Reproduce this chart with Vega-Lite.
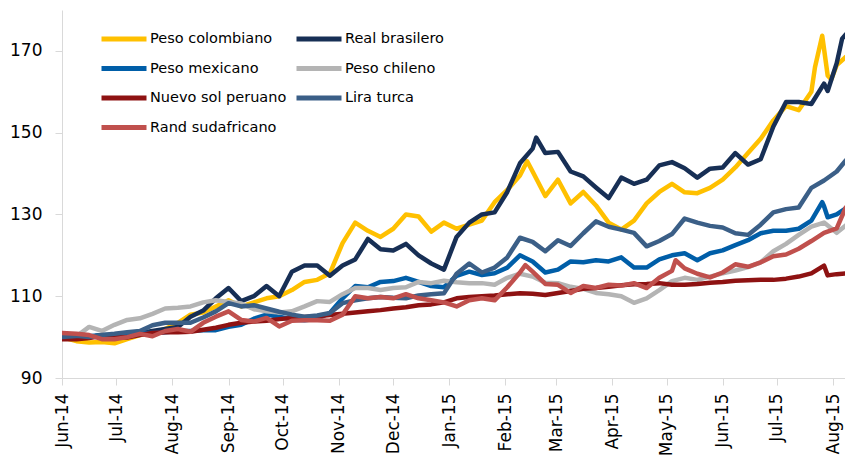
{
"$schema":"https://vega.github.io/schema/vega-lite/v6.json",
"width":783,"height":368,
"autosize":{"type":"none"},
"padding":{"left":62,"top":10,"right":0,"bottom":85},
"background":"white",
"config":{"view":{"stroke":null},"font":"DejaVu Sans"},
"data":{"values":[
{"date":"2014-06-01","series":"Peso colombiano","value":100},
{"date":"2014-06-09","series":"Peso colombiano","value":99},
{"date":"2014-06-16","series":"Peso colombiano","value":98.7},
{"date":"2014-06-23","series":"Peso colombiano","value":98.8},
{"date":"2014-06-30","series":"Peso colombiano","value":98.5},
{"date":"2014-07-07","series":"Peso colombiano","value":99.5},
{"date":"2014-07-14","series":"Peso colombiano","value":100.5},
{"date":"2014-07-21","series":"Peso colombiano","value":101},
{"date":"2014-07-28","series":"Peso colombiano","value":102},
{"date":"2014-08-04","series":"Peso colombiano","value":103.5},
{"date":"2014-08-11","series":"Peso colombiano","value":105.5},
{"date":"2014-08-18","series":"Peso colombiano","value":106},
{"date":"2014-08-25","series":"Peso colombiano","value":107.5},
{"date":"2014-09-01","series":"Peso colombiano","value":109},
{"date":"2014-09-08","series":"Peso colombiano","value":107.5},
{"date":"2014-09-15","series":"Peso colombiano","value":108.5},
{"date":"2014-09-22","series":"Peso colombiano","value":109.5},
{"date":"2014-09-29","series":"Peso colombiano","value":110},
{"date":"2014-10-06","series":"Peso colombiano","value":111.5},
{"date":"2014-10-13","series":"Peso colombiano","value":113.5},
{"date":"2014-10-20","series":"Peso colombiano","value":114},
{"date":"2014-10-27","series":"Peso colombiano","value":115.6},
{"date":"2014-11-03","series":"Peso colombiano","value":123},
{"date":"2014-11-10","series":"Peso colombiano","value":128},
{"date":"2014-11-17","series":"Peso colombiano","value":126},
{"date":"2014-11-24","series":"Peso colombiano","value":124.5},
{"date":"2014-12-01","series":"Peso colombiano","value":126.5},
{"date":"2014-12-08","series":"Peso colombiano","value":130},
{"date":"2014-12-15","series":"Peso colombiano","value":129.5},
{"date":"2014-12-22","series":"Peso colombiano","value":125.8},
{"date":"2014-12-29","series":"Peso colombiano","value":128},
{"date":"2015-01-05","series":"Peso colombiano","value":126.5},
{"date":"2015-01-12","series":"Peso colombiano","value":127.5},
{"date":"2015-01-19","series":"Peso colombiano","value":128.5},
{"date":"2015-01-26","series":"Peso colombiano","value":133},
{"date":"2015-02-02","series":"Peso colombiano","value":136},
{"date":"2015-02-09","series":"Peso colombiano","value":139.5},
{"date":"2015-02-13","series":"Peso colombiano","value":143},
{"date":"2015-02-16","series":"Peso colombiano","value":140.5},
{"date":"2015-02-23","series":"Peso colombiano","value":134.5},
{"date":"2015-03-02","series":"Peso colombiano","value":138.5},
{"date":"2015-03-09","series":"Peso colombiano","value":132.7},
{"date":"2015-03-16","series":"Peso colombiano","value":135.5},
{"date":"2015-03-23","series":"Peso colombiano","value":132.2},
{"date":"2015-03-30","series":"Peso colombiano","value":128},
{"date":"2015-04-06","series":"Peso colombiano","value":126.3},
{"date":"2015-04-13","series":"Peso colombiano","value":128.5},
{"date":"2015-04-20","series":"Peso colombiano","value":132.7},
{"date":"2015-04-27","series":"Peso colombiano","value":135.5},
{"date":"2015-05-04","series":"Peso colombiano","value":137.5},
{"date":"2015-05-11","series":"Peso colombiano","value":135.4},
{"date":"2015-05-18","series":"Peso colombiano","value":135.2},
{"date":"2015-05-25","series":"Peso colombiano","value":136.5},
{"date":"2015-06-01","series":"Peso colombiano","value":138.5},
{"date":"2015-06-08","series":"Peso colombiano","value":141.5},
{"date":"2015-06-15","series":"Peso colombiano","value":145},
{"date":"2015-06-22","series":"Peso colombiano","value":148.5},
{"date":"2015-06-29","series":"Peso colombiano","value":153},
{"date":"2015-07-06","series":"Peso colombiano","value":156.5},
{"date":"2015-07-13","series":"Peso colombiano","value":155.5},
{"date":"2015-07-20","series":"Peso colombiano","value":160},
{"date":"2015-07-22","series":"Peso colombiano","value":166},
{"date":"2015-07-26","series":"Peso colombiano","value":173.7},
{"date":"2015-07-27","series":"Peso colombiano","value":170.5},
{"date":"2015-07-29","series":"Peso colombiano","value":164},
{"date":"2015-07-31","series":"Peso colombiano","value":163},
{"date":"2015-08-03","series":"Peso colombiano","value":166.5},
{"date":"2015-08-08","series":"Peso colombiano","value":168.5},

{"date":"2014-06-01","series":"Real brasilero","value":100},
{"date":"2014-06-09","series":"Real brasilero","value":99.8},
{"date":"2014-06-16","series":"Real brasilero","value":100},
{"date":"2014-06-23","series":"Real brasilero","value":100.5},
{"date":"2014-06-30","series":"Real brasilero","value":100.2},
{"date":"2014-07-07","series":"Real brasilero","value":100.5},
{"date":"2014-07-14","series":"Real brasilero","value":101},
{"date":"2014-07-21","series":"Real brasilero","value":101.5},
{"date":"2014-07-28","series":"Real brasilero","value":102},
{"date":"2014-08-04","series":"Real brasilero","value":102.5},
{"date":"2014-08-11","series":"Real brasilero","value":105},
{"date":"2014-08-18","series":"Real brasilero","value":106.5},
{"date":"2014-08-25","series":"Real brasilero","value":109.5},
{"date":"2014-09-01","series":"Real brasilero","value":112},
{"date":"2014-09-08","series":"Real brasilero","value":108.8},
{"date":"2014-09-15","series":"Real brasilero","value":110},
{"date":"2014-09-22","series":"Real brasilero","value":112.5},
{"date":"2014-09-29","series":"Real brasilero","value":110},
{"date":"2014-10-06","series":"Real brasilero","value":116},
{"date":"2014-10-13","series":"Real brasilero","value":117.5},
{"date":"2014-10-20","series":"Real brasilero","value":117.5},
{"date":"2014-10-27","series":"Real brasilero","value":115},
{"date":"2014-11-03","series":"Real brasilero","value":117.5},
{"date":"2014-11-10","series":"Real brasilero","value":119},
{"date":"2014-11-17","series":"Real brasilero","value":124},
{"date":"2014-11-24","series":"Real brasilero","value":121.5},
{"date":"2014-12-01","series":"Real brasilero","value":121.2},
{"date":"2014-12-08","series":"Real brasilero","value":122.8},
{"date":"2014-12-15","series":"Real brasilero","value":120},
{"date":"2014-12-22","series":"Real brasilero","value":118},
{"date":"2014-12-29","series":"Real brasilero","value":116.5},
{"date":"2015-01-05","series":"Real brasilero","value":124.5},
{"date":"2015-01-12","series":"Real brasilero","value":128},
{"date":"2015-01-19","series":"Real brasilero","value":130},
{"date":"2015-01-26","series":"Real brasilero","value":130.5},
{"date":"2015-02-02","series":"Real brasilero","value":135.5},
{"date":"2015-02-09","series":"Real brasilero","value":142.5},
{"date":"2015-02-16","series":"Real brasilero","value":146.1},
{"date":"2015-02-18","series":"Real brasilero","value":148.8},
{"date":"2015-02-23","series":"Real brasilero","value":145},
{"date":"2015-03-02","series":"Real brasilero","value":145.3},
{"date":"2015-03-09","series":"Real brasilero","value":140.5},
{"date":"2015-03-16","series":"Real brasilero","value":139.3},
{"date":"2015-03-23","series":"Real brasilero","value":136.6},
{"date":"2015-03-30","series":"Real brasilero","value":134},
{"date":"2015-04-06","series":"Real brasilero","value":139},
{"date":"2015-04-13","series":"Real brasilero","value":137.5},
{"date":"2015-04-20","series":"Real brasilero","value":138.5},
{"date":"2015-04-27","series":"Real brasilero","value":142},
{"date":"2015-05-04","series":"Real brasilero","value":142.8},
{"date":"2015-05-11","series":"Real brasilero","value":141.3},
{"date":"2015-05-18","series":"Real brasilero","value":139},
{"date":"2015-05-25","series":"Real brasilero","value":141.2},
{"date":"2015-06-01","series":"Real brasilero","value":141.5},
{"date":"2015-06-08","series":"Real brasilero","value":145},
{"date":"2015-06-15","series":"Real brasilero","value":142.2},
{"date":"2015-06-22","series":"Real brasilero","value":143.5},
{"date":"2015-06-29","series":"Real brasilero","value":151.5},
{"date":"2015-07-06","series":"Real brasilero","value":157.5},
{"date":"2015-07-13","series":"Real brasilero","value":157.5},
{"date":"2015-07-20","series":"Real brasilero","value":157},
{"date":"2015-07-27","series":"Real brasilero","value":162},
{"date":"2015-07-29","series":"Real brasilero","value":160.2},
{"date":"2015-08-03","series":"Real brasilero","value":167},
{"date":"2015-08-06","series":"Real brasilero","value":173},
{"date":"2015-08-08","series":"Real brasilero","value":174},

{"date":"2014-06-01","series":"Peso mexicano","value":100},
{"date":"2014-06-09","series":"Peso mexicano","value":100},
{"date":"2014-06-16","series":"Peso mexicano","value":100.2},
{"date":"2014-06-23","series":"Peso mexicano","value":100.5},
{"date":"2014-06-30","series":"Peso mexicano","value":100.5},
{"date":"2014-07-07","series":"Peso mexicano","value":100.8},
{"date":"2014-07-14","series":"Peso mexicano","value":101},
{"date":"2014-07-21","series":"Peso mexicano","value":101},
{"date":"2014-07-28","series":"Peso mexicano","value":101.2},
{"date":"2014-08-04","series":"Peso mexicano","value":101.5},
{"date":"2014-08-11","series":"Peso mexicano","value":101.5},
{"date":"2014-08-18","series":"Peso mexicano","value":101.7},
{"date":"2014-08-25","series":"Peso mexicano","value":101.7},
{"date":"2014-09-01","series":"Peso mexicano","value":102.5},
{"date":"2014-09-08","series":"Peso mexicano","value":103},
{"date":"2014-09-15","series":"Peso mexicano","value":104.5},
{"date":"2014-09-22","series":"Peso mexicano","value":105.5},
{"date":"2014-09-29","series":"Peso mexicano","value":105},
{"date":"2014-10-06","series":"Peso mexicano","value":104.3},
{"date":"2014-10-13","series":"Peso mexicano","value":104.1},
{"date":"2014-10-20","series":"Peso mexicano","value":104.5},
{"date":"2014-10-27","series":"Peso mexicano","value":105.9},
{"date":"2014-11-03","series":"Peso mexicano","value":109.5},
{"date":"2014-11-10","series":"Peso mexicano","value":112.5},
{"date":"2014-11-17","series":"Peso mexicano","value":112.2},
{"date":"2014-11-24","series":"Peso mexicano","value":113.5},
{"date":"2014-12-01","series":"Peso mexicano","value":113.7},
{"date":"2014-12-08","series":"Peso mexicano","value":114.5},
{"date":"2014-12-15","series":"Peso mexicano","value":113.5},
{"date":"2014-12-22","series":"Peso mexicano","value":112.5},
{"date":"2014-12-29","series":"Peso mexicano","value":112.2},
{"date":"2015-01-05","series":"Peso mexicano","value":115},
{"date":"2015-01-12","series":"Peso mexicano","value":116},
{"date":"2015-01-19","series":"Peso mexicano","value":115.2},
{"date":"2015-01-26","series":"Peso mexicano","value":115.6},
{"date":"2015-02-02","series":"Peso mexicano","value":117},
{"date":"2015-02-09","series":"Peso mexicano","value":120},
{"date":"2015-02-16","series":"Peso mexicano","value":118.5},
{"date":"2015-02-23","series":"Peso mexicano","value":115.8},
{"date":"2015-03-02","series":"Peso mexicano","value":116.5},
{"date":"2015-03-09","series":"Peso mexicano","value":118.5},
{"date":"2015-03-16","series":"Peso mexicano","value":118.3},
{"date":"2015-03-23","series":"Peso mexicano","value":118.8},
{"date":"2015-03-30","series":"Peso mexicano","value":118.5},
{"date":"2015-04-06","series":"Peso mexicano","value":119.5},
{"date":"2015-04-13","series":"Peso mexicano","value":117},
{"date":"2015-04-20","series":"Peso mexicano","value":117},
{"date":"2015-04-27","series":"Peso mexicano","value":119},
{"date":"2015-05-04","series":"Peso mexicano","value":120},
{"date":"2015-05-11","series":"Peso mexicano","value":120.5},
{"date":"2015-05-18","series":"Peso mexicano","value":118.8},
{"date":"2015-05-25","series":"Peso mexicano","value":120.5},
{"date":"2015-06-01","series":"Peso mexicano","value":121.2},
{"date":"2015-06-08","series":"Peso mexicano","value":122.5},
{"date":"2015-06-15","series":"Peso mexicano","value":123.7},
{"date":"2015-06-22","series":"Peso mexicano","value":125.4},
{"date":"2015-06-29","series":"Peso mexicano","value":126},
{"date":"2015-07-06","series":"Peso mexicano","value":126},
{"date":"2015-07-13","series":"Peso mexicano","value":126.5},
{"date":"2015-07-20","series":"Peso mexicano","value":128.5},
{"date":"2015-07-26","series":"Peso mexicano","value":133},
{"date":"2015-07-27","series":"Peso mexicano","value":132},
{"date":"2015-07-29","series":"Peso mexicano","value":129.3},
{"date":"2015-08-03","series":"Peso mexicano","value":130},
{"date":"2015-08-08","series":"Peso mexicano","value":131.5},

{"date":"2014-06-01","series":"Peso chileno","value":100},
{"date":"2014-06-09","series":"Peso chileno","value":100.2},
{"date":"2014-06-16","series":"Peso chileno","value":102.5},
{"date":"2014-06-23","series":"Peso chileno","value":101.5},
{"date":"2014-06-30","series":"Peso chileno","value":103},
{"date":"2014-07-07","series":"Peso chileno","value":104.2},
{"date":"2014-07-14","series":"Peso chileno","value":104.6},
{"date":"2014-07-21","series":"Peso chileno","value":105.7},
{"date":"2014-07-28","series":"Peso chileno","value":107},
{"date":"2014-08-04","series":"Peso chileno","value":107.2},
{"date":"2014-08-11","series":"Peso chileno","value":107.5},
{"date":"2014-08-18","series":"Peso chileno","value":108.5},
{"date":"2014-08-25","series":"Peso chileno","value":109},
{"date":"2014-09-01","series":"Peso chileno","value":108.6},
{"date":"2014-09-08","series":"Peso chileno","value":108.2},
{"date":"2014-09-15","series":"Peso chileno","value":106.8},
{"date":"2014-09-22","series":"Peso chileno","value":106.3},
{"date":"2014-09-29","series":"Peso chileno","value":106},
{"date":"2014-10-06","series":"Peso chileno","value":106.3},
{"date":"2014-10-13","series":"Peso chileno","value":107.5},
{"date":"2014-10-20","series":"Peso chileno","value":108.8},
{"date":"2014-10-27","series":"Peso chileno","value":108.6},
{"date":"2014-11-03","series":"Peso chileno","value":110.5},
{"date":"2014-11-10","series":"Peso chileno","value":112},
{"date":"2014-11-17","series":"Peso chileno","value":112},
{"date":"2014-11-24","series":"Peso chileno","value":111.5},
{"date":"2014-12-01","series":"Peso chileno","value":112},
{"date":"2014-12-08","series":"Peso chileno","value":112.2},
{"date":"2014-12-15","series":"Peso chileno","value":113.5},
{"date":"2014-12-22","series":"Peso chileno","value":113.2},
{"date":"2014-12-29","series":"Peso chileno","value":113.8},
{"date":"2015-01-05","series":"Peso chileno","value":113.4},
{"date":"2015-01-12","series":"Peso chileno","value":113.2},
{"date":"2015-01-19","series":"Peso chileno","value":113.2},
{"date":"2015-01-26","series":"Peso chileno","value":112.8},
{"date":"2015-02-02","series":"Peso chileno","value":114.5},
{"date":"2015-02-09","series":"Peso chileno","value":115.5},
{"date":"2015-02-16","series":"Peso chileno","value":114.8},
{"date":"2015-02-23","series":"Peso chileno","value":113.3},
{"date":"2015-03-02","series":"Peso chileno","value":113.2},
{"date":"2015-03-09","series":"Peso chileno","value":112.3},
{"date":"2015-03-16","series":"Peso chileno","value":111.8},
{"date":"2015-03-23","series":"Peso chileno","value":110.8},
{"date":"2015-03-30","series":"Peso chileno","value":110.5},
{"date":"2015-04-06","series":"Peso chileno","value":110},
{"date":"2015-04-13","series":"Peso chileno","value":108.4},
{"date":"2015-04-20","series":"Peso chileno","value":109.5},
{"date":"2015-04-27","series":"Peso chileno","value":111.5},
{"date":"2015-05-04","series":"Peso chileno","value":113.7},
{"date":"2015-05-11","series":"Peso chileno","value":114.5},
{"date":"2015-05-18","series":"Peso chileno","value":114},
{"date":"2015-05-25","series":"Peso chileno","value":114.8},
{"date":"2015-06-01","series":"Peso chileno","value":115.6},
{"date":"2015-06-08","series":"Peso chileno","value":116.3},
{"date":"2015-06-15","series":"Peso chileno","value":117.1},
{"date":"2015-06-22","series":"Peso chileno","value":118.3},
{"date":"2015-06-29","series":"Peso chileno","value":121},
{"date":"2015-07-06","series":"Peso chileno","value":122.8},
{"date":"2015-07-13","series":"Peso chileno","value":125},
{"date":"2015-07-20","series":"Peso chileno","value":127},
{"date":"2015-07-27","series":"Peso chileno","value":128},
{"date":"2015-08-03","series":"Peso chileno","value":125.5},
{"date":"2015-08-08","series":"Peso chileno","value":127.3},

{"date":"2014-06-01","series":"Nuevo sol peruano","value":99.5},
{"date":"2014-06-09","series":"Nuevo sol peruano","value":99.5},
{"date":"2014-06-16","series":"Nuevo sol peruano","value":99.8},
{"date":"2014-06-23","series":"Nuevo sol peruano","value":100.3},
{"date":"2014-06-30","series":"Nuevo sol peruano","value":100},
{"date":"2014-07-07","series":"Nuevo sol peruano","value":99.9},
{"date":"2014-07-14","series":"Nuevo sol peruano","value":100.5},
{"date":"2014-07-21","series":"Nuevo sol peruano","value":101},
{"date":"2014-07-28","series":"Nuevo sol peruano","value":101.2},
{"date":"2014-08-04","series":"Nuevo sol peruano","value":101.2},
{"date":"2014-08-11","series":"Nuevo sol peruano","value":101.3},
{"date":"2014-08-18","series":"Nuevo sol peruano","value":101.8},
{"date":"2014-08-25","series":"Nuevo sol peruano","value":102.3},
{"date":"2014-09-01","series":"Nuevo sol peruano","value":103},
{"date":"2014-09-08","series":"Nuevo sol peruano","value":103.5},
{"date":"2014-09-15","series":"Nuevo sol peruano","value":103.8},
{"date":"2014-09-22","series":"Nuevo sol peruano","value":104},
{"date":"2014-09-29","series":"Nuevo sol peruano","value":104.4},
{"date":"2014-10-06","series":"Nuevo sol peruano","value":104.7},
{"date":"2014-10-13","series":"Nuevo sol peruano","value":104.9},
{"date":"2014-10-20","series":"Nuevo sol peruano","value":105.1},
{"date":"2014-10-27","series":"Nuevo sol peruano","value":105.4},
{"date":"2014-11-03","series":"Nuevo sol peruano","value":105.7},
{"date":"2014-11-10","series":"Nuevo sol peruano","value":106},
{"date":"2014-11-17","series":"Nuevo sol peruano","value":106.3},
{"date":"2014-11-24","series":"Nuevo sol peruano","value":106.6},
{"date":"2014-12-01","series":"Nuevo sol peruano","value":107},
{"date":"2014-12-08","series":"Nuevo sol peruano","value":107.3},
{"date":"2014-12-15","series":"Nuevo sol peruano","value":107.8},
{"date":"2014-12-22","series":"Nuevo sol peruano","value":108},
{"date":"2014-12-29","series":"Nuevo sol peruano","value":108.5},
{"date":"2015-01-05","series":"Nuevo sol peruano","value":109.5},
{"date":"2015-01-12","series":"Nuevo sol peruano","value":109.8},
{"date":"2015-01-19","series":"Nuevo sol peruano","value":110},
{"date":"2015-01-26","series":"Nuevo sol peruano","value":110.2},
{"date":"2015-02-02","series":"Nuevo sol peruano","value":110.5},
{"date":"2015-02-09","series":"Nuevo sol peruano","value":110.7},
{"date":"2015-02-16","series":"Nuevo sol peruano","value":110.6},
{"date":"2015-02-23","series":"Nuevo sol peruano","value":110.3},
{"date":"2015-03-02","series":"Nuevo sol peruano","value":110.8},
{"date":"2015-03-09","series":"Nuevo sol peruano","value":111.3},
{"date":"2015-03-16","series":"Nuevo sol peruano","value":111.8},
{"date":"2015-03-23","series":"Nuevo sol peruano","value":112},
{"date":"2015-03-30","series":"Nuevo sol peruano","value":112.3},
{"date":"2015-04-06","series":"Nuevo sol peruano","value":112.7},
{"date":"2015-04-13","series":"Nuevo sol peruano","value":112.9},
{"date":"2015-04-20","series":"Nuevo sol peruano","value":113},
{"date":"2015-04-27","series":"Nuevo sol peruano","value":113.2},
{"date":"2015-05-04","series":"Nuevo sol peruano","value":112.8},
{"date":"2015-05-11","series":"Nuevo sol peruano","value":112.8},
{"date":"2015-05-18","series":"Nuevo sol peruano","value":113},
{"date":"2015-05-25","series":"Nuevo sol peruano","value":113.3},
{"date":"2015-06-01","series":"Nuevo sol peruano","value":113.5},
{"date":"2015-06-08","series":"Nuevo sol peruano","value":113.8},
{"date":"2015-06-15","series":"Nuevo sol peruano","value":113.9},
{"date":"2015-06-22","series":"Nuevo sol peruano","value":114},
{"date":"2015-06-29","series":"Nuevo sol peruano","value":114},
{"date":"2015-07-06","series":"Nuevo sol peruano","value":114.3},
{"date":"2015-07-13","series":"Nuevo sol peruano","value":114.8},
{"date":"2015-07-20","series":"Nuevo sol peruano","value":115.6},
{"date":"2015-07-27","series":"Nuevo sol peruano","value":117.5},
{"date":"2015-07-29","series":"Nuevo sol peruano","value":115.1},
{"date":"2015-08-03","series":"Nuevo sol peruano","value":115.4},
{"date":"2015-08-08","series":"Nuevo sol peruano","value":115.6},

{"date":"2014-06-01","series":"Lira turca","value":100},
{"date":"2014-06-09","series":"Lira turca","value":100.3},
{"date":"2014-06-16","series":"Lira turca","value":100},
{"date":"2014-06-23","series":"Lira turca","value":100.5},
{"date":"2014-06-30","series":"Lira turca","value":100.8},
{"date":"2014-07-07","series":"Lira turca","value":101.2},
{"date":"2014-07-14","series":"Lira turca","value":101.5},
{"date":"2014-07-21","series":"Lira turca","value":102.9},
{"date":"2014-07-28","series":"Lira turca","value":103.5},
{"date":"2014-08-04","series":"Lira turca","value":103.5},
{"date":"2014-08-11","series":"Lira turca","value":103.5},
{"date":"2014-08-18","series":"Lira turca","value":104.8},
{"date":"2014-08-25","series":"Lira turca","value":106.3},
{"date":"2014-09-01","series":"Lira turca","value":108.3},
{"date":"2014-09-08","series":"Lira turca","value":107.5},
{"date":"2014-09-15","series":"Lira turca","value":107.8},
{"date":"2014-09-22","series":"Lira turca","value":107},
{"date":"2014-09-29","series":"Lira turca","value":106.2},
{"date":"2014-10-06","series":"Lira turca","value":105.5},
{"date":"2014-10-13","series":"Lira turca","value":105},
{"date":"2014-10-20","series":"Lira turca","value":105.3},
{"date":"2014-10-27","series":"Lira turca","value":105.9},
{"date":"2014-11-03","series":"Lira turca","value":108.3},
{"date":"2014-11-10","series":"Lira turca","value":109},
{"date":"2014-11-17","series":"Lira turca","value":109.5},
{"date":"2014-11-24","series":"Lira turca","value":109.8},
{"date":"2014-12-01","series":"Lira turca","value":109.6},
{"date":"2014-12-08","series":"Lira turca","value":109.5},
{"date":"2014-12-15","series":"Lira turca","value":110.2},
{"date":"2014-12-22","series":"Lira turca","value":110.5},
{"date":"2014-12-29","series":"Lira turca","value":110.7},
{"date":"2015-01-05","series":"Lira turca","value":115.5},
{"date":"2015-01-12","series":"Lira turca","value":118},
{"date":"2015-01-19","series":"Lira turca","value":115.8},
{"date":"2015-01-26","series":"Lira turca","value":117},
{"date":"2015-02-02","series":"Lira turca","value":119.5},
{"date":"2015-02-09","series":"Lira turca","value":124.3},
{"date":"2015-02-16","series":"Lira turca","value":123.3},
{"date":"2015-02-23","series":"Lira turca","value":121},
{"date":"2015-03-02","series":"Lira turca","value":123.7},
{"date":"2015-03-09","series":"Lira turca","value":122.3},
{"date":"2015-03-16","series":"Lira turca","value":125.4},
{"date":"2015-03-23","series":"Lira turca","value":128.3},
{"date":"2015-03-30","series":"Lira turca","value":127},
{"date":"2015-04-06","series":"Lira turca","value":126.3},
{"date":"2015-04-13","series":"Lira turca","value":125.5},
{"date":"2015-04-20","series":"Lira turca","value":122.2},
{"date":"2015-04-27","series":"Lira turca","value":123.5},
{"date":"2015-05-04","series":"Lira turca","value":125.2},
{"date":"2015-05-11","series":"Lira turca","value":129},
{"date":"2015-05-18","series":"Lira turca","value":128},
{"date":"2015-05-25","series":"Lira turca","value":127.2},
{"date":"2015-06-01","series":"Lira turca","value":126.8},
{"date":"2015-06-08","series":"Lira turca","value":125.4},
{"date":"2015-06-15","series":"Lira turca","value":125},
{"date":"2015-06-22","series":"Lira turca","value":127.5},
{"date":"2015-06-29","series":"Lira turca","value":130.5},
{"date":"2015-07-06","series":"Lira turca","value":131.3},
{"date":"2015-07-13","series":"Lira turca","value":131.7},
{"date":"2015-07-20","series":"Lira turca","value":136.5},
{"date":"2015-07-27","series":"Lira turca","value":138.3},
{"date":"2015-08-03","series":"Lira turca","value":140.5},
{"date":"2015-08-08","series":"Lira turca","value":143.2},

{"date":"2014-06-01","series":"Rand sudafricano","value":101},
{"date":"2014-06-09","series":"Rand sudafricano","value":100.8},
{"date":"2014-06-16","series":"Rand sudafricano","value":100.5},
{"date":"2014-06-23","series":"Rand sudafricano","value":99.5},
{"date":"2014-06-30","series":"Rand sudafricano","value":99.5},
{"date":"2014-07-07","series":"Rand sudafricano","value":100},
{"date":"2014-07-14","series":"Rand sudafricano","value":100.8},
{"date":"2014-07-21","series":"Rand sudafricano","value":100.2},
{"date":"2014-07-28","series":"Rand sudafricano","value":101.5},
{"date":"2014-08-04","series":"Rand sudafricano","value":102},
{"date":"2014-08-11","series":"Rand sudafricano","value":101.3},
{"date":"2014-08-18","series":"Rand sudafricano","value":103.5},
{"date":"2014-08-25","series":"Rand sudafricano","value":105},
{"date":"2014-09-01","series":"Rand sudafricano","value":106.3},
{"date":"2014-09-08","series":"Rand sudafricano","value":104.2},
{"date":"2014-09-15","series":"Rand sudafricano","value":103.8},
{"date":"2014-09-22","series":"Rand sudafricano","value":104.7},
{"date":"2014-09-29","series":"Rand sudafricano","value":102.6},
{"date":"2014-10-06","series":"Rand sudafricano","value":104},
{"date":"2014-10-13","series":"Rand sudafricano","value":104.1},
{"date":"2014-10-20","series":"Rand sudafricano","value":104.1},
{"date":"2014-10-27","series":"Rand sudafricano","value":104},
{"date":"2014-11-03","series":"Rand sudafricano","value":105.5},
{"date":"2014-11-10","series":"Rand sudafricano","value":110},
{"date":"2014-11-17","series":"Rand sudafricano","value":109.5},
{"date":"2014-11-24","series":"Rand sudafricano","value":109.8},
{"date":"2014-12-01","series":"Rand sudafricano","value":109.5},
{"date":"2014-12-08","series":"Rand sudafricano","value":110.5},
{"date":"2014-12-15","series":"Rand sudafricano","value":109.5},
{"date":"2014-12-22","series":"Rand sudafricano","value":109},
{"date":"2014-12-29","series":"Rand sudafricano","value":108.5},
{"date":"2015-01-05","series":"Rand sudafricano","value":107.5},
{"date":"2015-01-12","series":"Rand sudafricano","value":109},
{"date":"2015-01-19","series":"Rand sudafricano","value":109.5},
{"date":"2015-01-26","series":"Rand sudafricano","value":109},
{"date":"2015-02-02","series":"Rand sudafricano","value":112.2},
{"date":"2015-02-09","series":"Rand sudafricano","value":115.8},
{"date":"2015-02-12","series":"Rand sudafricano","value":117.6},
{"date":"2015-02-16","series":"Rand sudafricano","value":116},
{"date":"2015-02-23","series":"Rand sudafricano","value":113},
{"date":"2015-03-02","series":"Rand sudafricano","value":112.8},
{"date":"2015-03-09","series":"Rand sudafricano","value":110.8},
{"date":"2015-03-16","series":"Rand sudafricano","value":112.5},
{"date":"2015-03-23","series":"Rand sudafricano","value":112},
{"date":"2015-03-30","series":"Rand sudafricano","value":112.8},
{"date":"2015-04-06","series":"Rand sudafricano","value":112.6},
{"date":"2015-04-13","series":"Rand sudafricano","value":113.2},
{"date":"2015-04-20","series":"Rand sudafricano","value":112},
{"date":"2015-04-27","series":"Rand sudafricano","value":114.5},
{"date":"2015-05-04","series":"Rand sudafricano","value":116.2},
{"date":"2015-05-06","series":"Rand sudafricano","value":118.8},
{"date":"2015-05-11","series":"Rand sudafricano","value":116.8},
{"date":"2015-05-18","series":"Rand sudafricano","value":115.5},
{"date":"2015-05-25","series":"Rand sudafricano","value":114.6},
{"date":"2015-06-01","series":"Rand sudafricano","value":115.8},
{"date":"2015-06-08","series":"Rand sudafricano","value":117.8},
{"date":"2015-06-15","series":"Rand sudafricano","value":117.2},
{"date":"2015-06-22","series":"Rand sudafricano","value":118.3},
{"date":"2015-06-29","series":"Rand sudafricano","value":119.8},
{"date":"2015-07-06","series":"Rand sudafricano","value":120.2},
{"date":"2015-07-13","series":"Rand sudafricano","value":121.6},
{"date":"2015-07-20","series":"Rand sudafricano","value":123.5},
{"date":"2015-07-27","series":"Rand sudafricano","value":125.5},
{"date":"2015-08-03","series":"Rand sudafricano","value":126.6},
{"date":"2015-08-08","series":"Rand sudafricano","value":131.7}
]},
"mark":{"type":"line","strokeWidth":4.5,"strokeJoin":"round","strokeCap":"round","clip":true},
"encoding":{
"x":{"field":"date","type":"temporal",
 "scale":{"type":"utc","domain":[{"year":2014,"month":6,"date":1,"utc":true},{"year":2015,"month":8,"date":7,"hours":14,"utc":true}],"nice":false},
 "axis":{"title":null,"grid":false,
  "labelExpr":"utcFormat(datum.value, '%b-%y')",
  "values":[
   {"year":2014,"month":6,"date":1,"utc":true},{"year":2014,"month":7,"date":1,"utc":true},{"year":2014,"month":8,"date":1,"utc":true},
   {"year":2014,"month":9,"date":1,"utc":true},{"year":2014,"month":10,"date":1,"utc":true},{"year":2014,"month":11,"date":1,"utc":true},
   {"year":2014,"month":12,"date":1,"utc":true},{"year":2015,"month":1,"date":1,"utc":true},{"year":2015,"month":2,"date":1,"utc":true},
   {"year":2015,"month":3,"date":1,"utc":true},{"year":2015,"month":4,"date":1,"utc":true},{"year":2015,"month":5,"date":1,"utc":true},
   {"year":2015,"month":6,"date":1,"utc":true},{"year":2015,"month":7,"date":1,"utc":true},{"year":2015,"month":8,"date":1,"utc":true}],
  "labelAngle":-90,"labelFont":"DejaVu Sans","labelFontSize":17,"labelColor":"#000000",
  "tickColor":"#D9D9D9","domainColor":"#D9D9D9","tickSize":7,"labelPadding":8,"labelOverlap":false,"labelFlush":false,"labelBound":false}},
"y":{"field":"value","type":"quantitative",
 "scale":{"domain":[90,180],"nice":false,"zero":false},
 "axis":{"title":null,"grid":false,"values":[90,110,130,150,170],
  "labelFont":"DejaVu Sans","labelFontSize":17,"labelColor":"#000000",
  "tickColor":"#D9D9D9","domainColor":"#D9D9D9","tickSize":7,"labelPadding":13}},
"color":{"field":"series","type":"nominal",
 "scale":{"domain":["Peso colombiano","Real brasilero","Peso mexicano","Peso chileno","Nuevo sol peruano","Lira turca","Rand sudafricano"],
  "range":["#FFC000","#172F55","#005EA8","#B4B4B4","#8E1212","#3B5F87","#C0504D"]},
 "legend":{"title":null,"orient":"none","legendX":52,"legendY":19,"columns":2,"direction":"horizontal",
  "symbolType":"M-3,0H3","symbolSize":225,"symbolStrokeWidth":5,"labelFont":"DejaVu Sans","labelFontSize":14.5,"labelColor":"#000000",
  "labelOffset":16,"rowPadding":9.5,"columnPadding":-1,"padding":0,"labelLimit":300}}
}
}
